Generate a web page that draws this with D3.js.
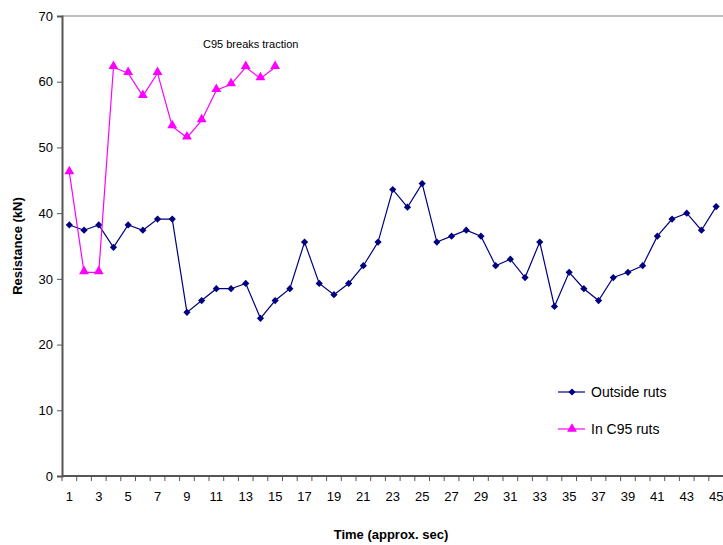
<!DOCTYPE html>
<html>
<head>
<meta charset="utf-8">
<script src="https://cdn.jsdelivr.net/npm/d3@7"></script>
<style>
  body { margin: 0; background: #fff; }
  svg { font-family: "Liberation Sans", Arial, sans-serif; }
</style>
</head>
<body>
<script>
// time categories 1..46 (46th is cut off at the right edge)
var times = d3.range(1, 47);
var outsideRuts = [38.2, 37.4, 38.2, 34.8, 38.2, 37.4, 39.1, 39.1, 24.9, 26.7,
  28.5, 28.5, 29.3, 24.0, 26.7, 28.5, 35.6, 29.3, 27.6, 29.3,
  32.0, 35.6, 43.6, 40.9, 44.5, 35.6, 36.5, 37.4, 36.5, 32.0,
  33.0, 30.2, 35.6, 25.8, 31.0, 28.5, 26.7, 30.2, 31.0, 32.0,
  36.5, 39.1, 40.0, 37.4, 41.0];
var inC95Ruts = [46.2, 31.0, 31.0, 62.2, 61.3, 57.8, 61.3, 53.2, 51.5, 54.1,
  58.7, 59.6, 62.2, 60.5, 62.2];
var yTicks = [0, 10, 20, 30, 40, 50, 60, 70];

var width = 723, height = 545;
var margin = {left: 62, top: 16, bottom: 69};
var plotRight = 62 + 46 * 14.7;

var svg = d3.select('body').append('svg')
  .attr('width', width)
  .attr('height', height);

var x = d3.scaleBand()
  .domain(times)
  .range([margin.left, plotRight]);
var y = d3.scaleLinear()
  .domain([0, 70])
  .range([height - margin.bottom, margin.top]);

var cx = function(t){ return x(t) + x.bandwidth() / 2; };

// top border
svg.append('line')
  .attr('x1', margin.left).attr('x2', plotRight)
  .attr('y1', y(70)).attr('y2', y(70))
  .attr('stroke', '#808080').attr('stroke-width', 1);

// y axis
var yAxis = d3.axisLeft(y).tickValues(yTicks).tickSize(5).tickPadding(4);
var gy = svg.append('g')
  .attr('transform', 'translate(' + margin.left + ',0)')
  .call(yAxis);
gy.select('.domain').attr('stroke', '#555').attr('stroke-width', 2);
gy.selectAll('.tick line').attr('stroke', '#555');
gy.selectAll('.tick text').attr('font-size', 13).attr('fill', '#000');

// x axis: ticks at category boundaries, labels on odd categories
var gx = svg.append('g')
  .attr('transform', 'translate(0,' + y(0) + ')');
gx.append('line')
  .attr('x1', margin.left).attr('x2', plotRight)
  .attr('stroke', '#555').attr('stroke-width', 2);
gx.selectAll('.tk')
  .data(times)
  .enter().append('line')
  .attr('class', 'tk')
  .attr('x1', function(d){ return x(d); })
  .attr('x2', function(d){ return x(d); })
  .attr('y1', 0).attr('y2', 5)
  .attr('stroke', '#555');
gx.selectAll('.lbl')
  .data(times.filter(function(d){ return d % 2 === 1; }))
  .enter().append('text')
  .attr('class', 'lbl')
  .attr('x', cx)
  .attr('y', 25)
  .attr('text-anchor', 'middle')
  .attr('font-size', 13)
  .text(function(d){ return d; });

// axis titles
svg.append('text')
  .attr('x', 391).attr('y', 539)
  .attr('text-anchor', 'middle')
  .attr('font-size', 13).attr('font-weight', 'bold')
  .text('Time (approx. sec)');
svg.append('text')
  .attr('transform', 'translate(22,246) rotate(-90)')
  .attr('text-anchor', 'middle')
  .attr('font-size', 13).attr('font-weight', 'bold')
  .text('Resistance (kN)');

var line = d3.line()
  .x(function(d, i){ return cx(times[i]); })
  .y(function(d){ return y(d); });

// excel-style diamond = square turned 45 degrees
var diamond = d3.symbol().type(d3.symbolSquare).size(26);
var triangle = d3.symbol().type(d3.symbolTriangle).size(42);

// outside ruts
svg.append('path')
  .attr('d', line(outsideRuts))
  .attr('fill', 'none').attr('stroke', '#000080').attr('stroke-width', 1.2);
svg.selectAll('.dia')
  .data(outsideRuts)
  .enter().append('path')
  .attr('class', 'dia')
  .attr('d', diamond)
  .attr('transform', function(d, i){ return 'translate(' + cx(times[i]) + ',' + y(d) + ') rotate(45)'; })
  .attr('fill', '#000080');

// in C95 ruts
svg.append('path')
  .attr('d', line(inC95Ruts))
  .attr('fill', 'none').attr('stroke', '#FF00FF').attr('stroke-width', 1.2);
svg.selectAll('.tri')
  .data(inC95Ruts)
  .enter().append('path')
  .attr('class', 'tri')
  .attr('d', triangle)
  .attr('transform', function(d, i){ return 'translate(' + cx(times[i]) + ',' + (y(d) - 1) + ')'; })
  .attr('fill', '#FF00FF');

// annotation
svg.append('text')
  .attr('x', 203).attr('y', 48)
  .attr('font-size', 11)
  .text('C95 breaks traction');

// legend
var legend = [
  {name: 'Outside ruts', color: '#000080', sym: diamond, rot: 45, y: 392},
  {name: 'In C95 ruts', color: '#FF00FF', sym: triangle, rot: 0, y: 429}
];
var lg = svg.selectAll('.legend')
  .data(legend)
  .enter().append('g')
  .attr('transform', function(d){ return 'translate(0,' + d.y + ')'; });
lg.append('line')
  .attr('x1', 558).attr('x2', 585)
  .attr('stroke', function(d){ return d.color; }).attr('stroke-width', 1.2);
lg.append('path')
  .attr('d', function(d){ return d.sym(); })
  .attr('transform', function(d){ return 'translate(572,0) rotate(' + d.rot + ')'; })
  .attr('fill', function(d){ return d.color; });
lg.append('text')
  .attr('x', 591).attr('y', 5)
  .attr('font-size', 14)
  .text(function(d){ return d.name; });
</script>
</body>
</html>
